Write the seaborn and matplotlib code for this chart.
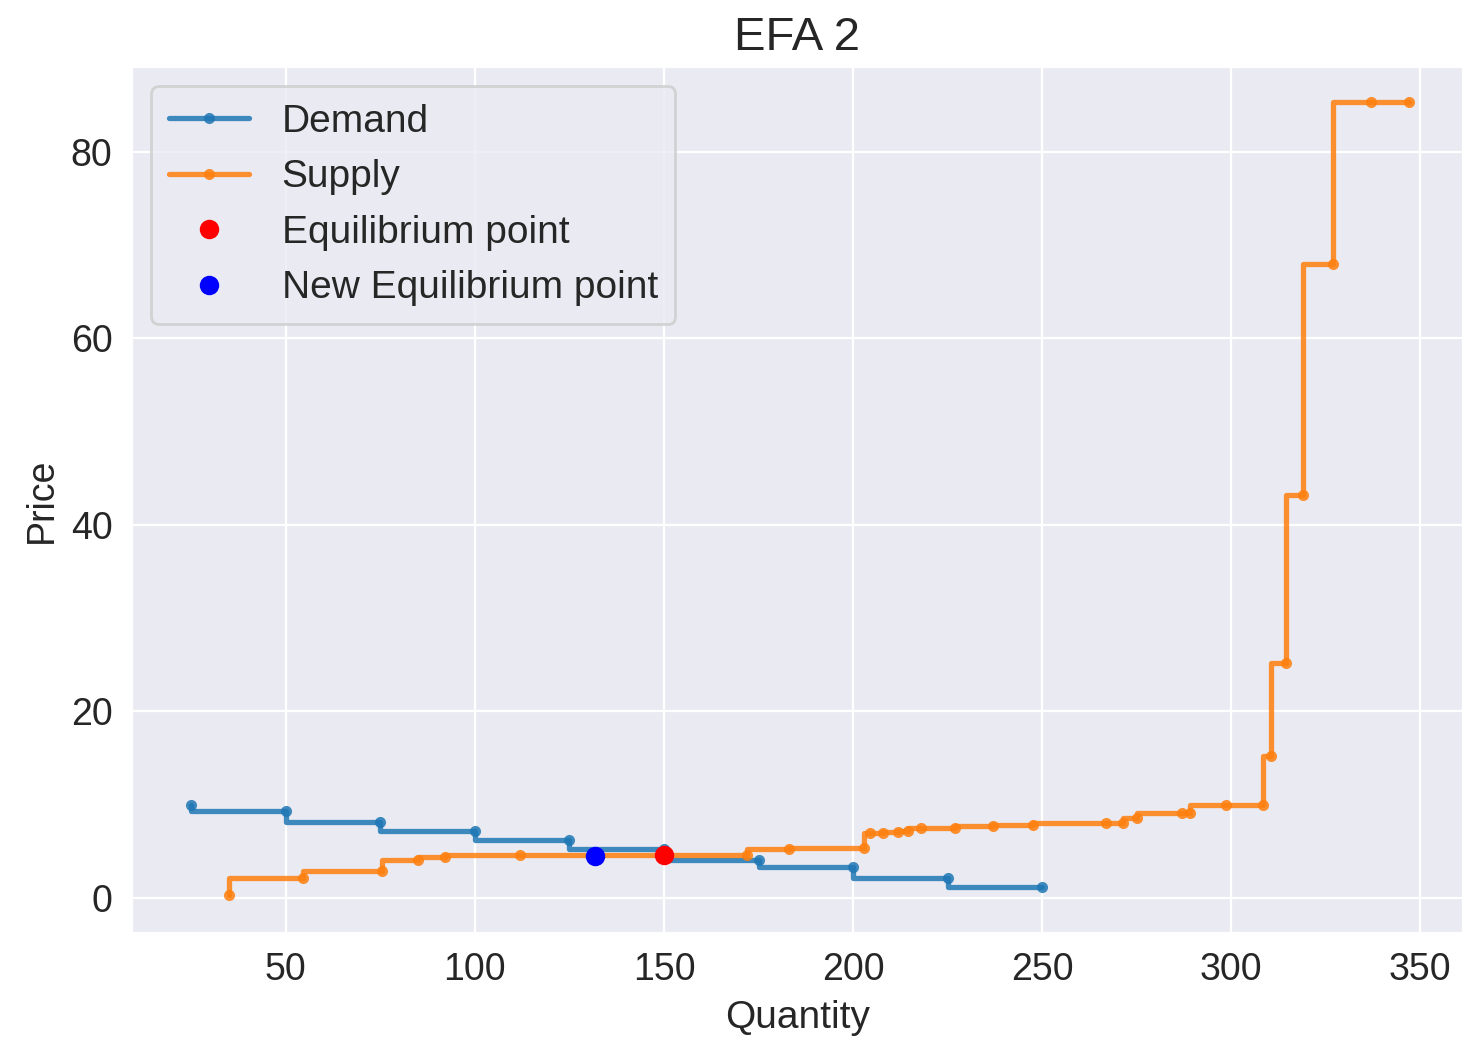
import numpy as np
import matplotlib
matplotlib.use("Agg")
import matplotlib.pyplot as plt
import seaborn as sns
import pandas as pd

# Demand curve (quantity, price)
demand_q = [25, 50, 75, 100, 125, 150, 175, 200, 225, 250]
demand_p = [10.0, 9.3, 8.1, 7.2, 6.2, 5.2, 4.1, 3.3, 2.1, 1.2]

# Supply curve (quantity, price)
supply_q = [35, 54.5, 75.5, 85, 92, 112, 172, 183, 203, 204.5, 208, 212, 214.5, 218,
            227, 237, 247.5, 267, 271.5, 275, 287, 289, 298.5, 308.5, 310.5, 314.5,
            319, 327, 337, 347]
supply_p = [0.3, 2.1, 2.9, 4.1, 4.4, 4.6, 4.6, 5.3, 5.4, 7.0, 7.0, 7.1, 7.2, 7.5,
            7.5, 7.7, 7.8, 8.0, 8.0, 8.6, 9.1, 9.1, 10.0, 10.0, 15.2, 25.2,
            43.2, 68.0, 85.3, 85.3]

# Equilibrium points
eq_q, eq_p = 150, 4.6
new_eq_q, new_eq_p = 131.7, 4.5

sns.set_style("darkgrid")
plt.rcParams["font.family"] = ["Liberation Sans", "DejaVu Sans"]

demand_df = pd.DataFrame({"Quantity": demand_q, "Price": demand_p})
supply_df = pd.DataFrame({"Quantity": supply_q, "Price": supply_p})

fig = plt.figure(figsize=(1463 / 200, 1038 / 200), dpi=200)
ax = fig.add_axes([0.0902, 0.1012, 0.9098, 0.8343])

sns.lineplot(data=demand_df, x="Quantity", y="Price", ax=ax, color="tab:blue", alpha=0.85,
             linewidth=1.9, marker=".", markeredgewidth=0, markersize=8,
             drawstyle="steps-pre", label="Demand")
sns.lineplot(data=supply_df, x="Quantity", y="Price", ax=ax, color="tab:orange", alpha=0.85,
             linewidth=1.9, marker=".", markeredgewidth=0, markersize=8,
             drawstyle="steps-pre", label="Supply")
ax.plot(eq_q, eq_p, "ro", label="Equilibrium point")
ax.plot(new_eq_q, new_eq_p, "bo", label="New Equilibrium point")

ax.set_xlim(9.3, 361.3)
ax.set_ylim(-3.75, 89.1)
ax.set_title("EFA 2", fontsize=17)
ax.set_xlabel("Quantity", fontsize=14)
ax.set_ylabel("Price", fontsize=13.5)
ax.tick_params(labelsize=13.5)
ax.legend(loc="upper left", fontsize=14, handlelength=2.05, handletextpad=0.85,
          borderpad=0.45)

fig.savefig("out.png", dpi=200)
